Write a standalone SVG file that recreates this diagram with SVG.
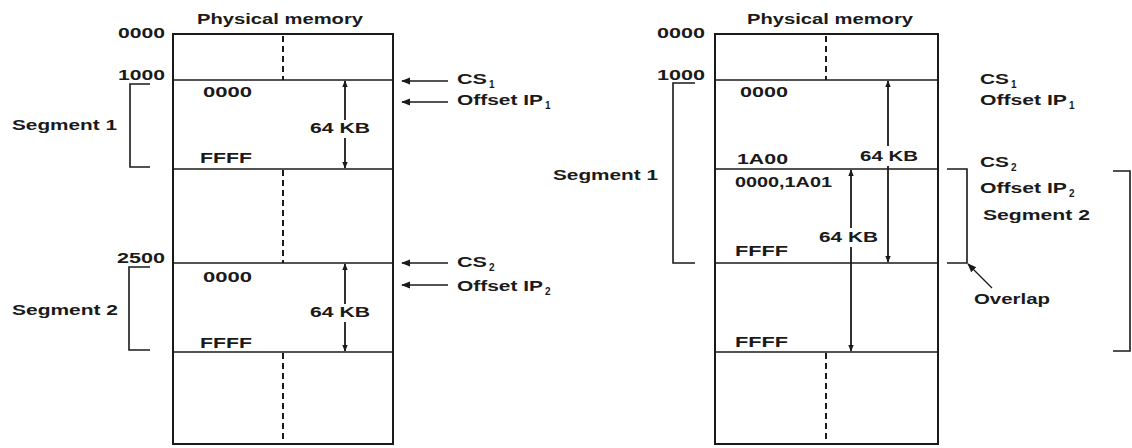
<svg xmlns="http://www.w3.org/2000/svg" width="1132" height="448" viewBox="0 0 1132 448">
<style>
text{font-family:"Liberation Sans",Arial,sans-serif;font-size:14px;font-weight:bold;fill:#1a1a1a}
.sub{font-size:10px}
.box{fill:none;stroke:#1a1a1a;stroke-width:2}
.div{stroke:#1a1a1a;stroke-width:1.5}
.dash{stroke:#1a1a1a;stroke-width:2;stroke-dasharray:6 4}
.br{fill:none;stroke:#1a1a1a;stroke-width:1.6}
.arr{stroke:#1a1a1a;stroke-width:1.8;fill:none}
.ptr{stroke:#1a1a1a;stroke-width:1.3;fill:none}
</style>
<defs>
<marker id="ah" viewBox="0 0 10 10" refX="9" refY="5" markerWidth="7" markerHeight="7" markerUnits="userSpaceOnUse" orient="auto-start-reverse">
<path d="M0,1 L10,5 L0,9 z" fill="#1a1a1a"/>
</marker>
<marker id="ah2" viewBox="0 0 10 10" refX="9" refY="5" markerWidth="9" markerHeight="9" markerUnits="userSpaceOnUse" orient="auto-start-reverse">
<path d="M0,1 L10,5 L0,9 z" fill="#1a1a1a"/>
</marker>
</defs>

<g id="left-memory">
<text x="197" y="24" textLength="166" lengthAdjust="spacingAndGlyphs">Physical memory</text>
<rect class="box" x="173" y="34" width="220" height="410"/>
<line class="div" x1="173" y1="80" x2="393" y2="80"/>
<line class="div" x1="173" y1="169" x2="393" y2="169"/>
<line class="div" x1="173" y1="263" x2="393" y2="263"/>
<line class="div" x1="173" y1="352" x2="393" y2="352"/>
<line class="dash" x1="283" y1="36" x2="283" y2="80"/>
<line class="dash" x1="283" y1="170" x2="283" y2="263"/>
<line class="dash" x1="283" y1="353" x2="283" y2="443"/>
<text x="118" y="38" textLength="47" lengthAdjust="spacingAndGlyphs">0000</text>
<text x="118" y="80" textLength="47" lengthAdjust="spacingAndGlyphs">1000</text>
<text x="117" y="263" textLength="48" lengthAdjust="spacingAndGlyphs">2500</text>
</g>

<g id="left-segment1">
<text x="203" y="97" textLength="49" lengthAdjust="spacingAndGlyphs">0000</text>
<text x="200" y="163" textLength="52" lengthAdjust="spacingAndGlyphs">FFFF</text>
<text x="310" y="133" textLength="60" lengthAdjust="spacingAndGlyphs">64 KB</text>
<polyline class="br" points="150,84 130,84 130,167 150,167"/>
<text x="12" y="130" textLength="105" lengthAdjust="spacingAndGlyphs">Segment 1</text>
</g>

<g id="left-segment2">
<text x="203" y="282" textLength="49" lengthAdjust="spacingAndGlyphs">0000</text>
<text x="200" y="348" textLength="52" lengthAdjust="spacingAndGlyphs">FFFF</text>
<text x="310" y="317" textLength="60" lengthAdjust="spacingAndGlyphs">64 KB</text>
<polyline class="br" points="150,267 129,267 129,350 150,350"/>
<text x="12" y="315" textLength="106" lengthAdjust="spacingAndGlyphs">Segment 2</text>
</g>

<g id="left-labels">
<text x="457" y="84" textLength="30" lengthAdjust="spacingAndGlyphs">CS</text>
<text class="sub" x="489" y="88">1</text>
<text x="457" y="105" textLength="86" lengthAdjust="spacingAndGlyphs">Offset IP</text>
<text class="sub" x="545" y="109">1</text>
<text x="457" y="267" textLength="30" lengthAdjust="spacingAndGlyphs">CS</text>
<text class="sub" x="489" y="271">2</text>
<text x="457" y="291" textLength="86" lengthAdjust="spacingAndGlyphs">Offset IP</text>
<text class="sub" x="545" y="295">2</text>
</g>

<g id="right-memory">
<text x="747" y="24" textLength="166" lengthAdjust="spacingAndGlyphs">Physical memory</text>
<rect class="box" x="715" y="34" width="223" height="410"/>
<line class="div" x1="715" y1="80" x2="938" y2="80"/>
<line class="div" x1="715" y1="169" x2="938" y2="169"/>
<line class="div" x1="715" y1="263" x2="938" y2="263"/>
<line class="div" x1="715" y1="352" x2="938" y2="352"/>
<line class="dash" x1="826" y1="36" x2="826" y2="80"/>
<line class="dash" x1="826" y1="353" x2="826" y2="443"/>
<text x="657" y="38" textLength="48" lengthAdjust="spacingAndGlyphs">0000</text>
<text x="657" y="80" textLength="48" lengthAdjust="spacingAndGlyphs">1000</text>
</g>

<g id="right-segment1">
<text x="740" y="97" textLength="48" lengthAdjust="spacingAndGlyphs">0000</text>
<text x="737" y="164" textLength="51" lengthAdjust="spacingAndGlyphs">1A00</text>
<text x="860" y="161" textLength="58" lengthAdjust="spacingAndGlyphs">64 KB</text>
<polyline class="br" points="695,83 673,83 673,263 695,263"/>
<text x="553" y="180" textLength="105" lengthAdjust="spacingAndGlyphs">Segment 1</text>
<text x="980" y="84" textLength="29" lengthAdjust="spacingAndGlyphs">CS</text>
<text class="sub" x="1011" y="88">1</text>
<text x="980" y="105" textLength="87" lengthAdjust="spacingAndGlyphs">Offset IP</text>
<text class="sub" x="1069" y="109">1</text>
</g>

<g id="right-segment2">
<text x="735" y="187" textLength="97" lengthAdjust="spacingAndGlyphs">0000,1A01</text>
<text x="735" y="256" textLength="53" lengthAdjust="spacingAndGlyphs">FFFF</text>
<text x="735" y="347" textLength="53" lengthAdjust="spacingAndGlyphs">FFFF</text>
<text x="819" y="242" textLength="59" lengthAdjust="spacingAndGlyphs">64 KB</text>
<polyline class="br" points="947,169 967,169 967,263 947,263"/>
<polyline class="br" points="1113,171 1130,171 1130,351 1113,351"/>
<text x="980" y="167" textLength="29" lengthAdjust="spacingAndGlyphs">CS</text>
<text class="sub" x="1011" y="171">2</text>
<text x="980" y="193" textLength="87" lengthAdjust="spacingAndGlyphs">Offset IP</text>
<text class="sub" x="1069" y="197">2</text>
<text x="983" y="220" textLength="107" lengthAdjust="spacingAndGlyphs">Segment 2</text>
</g>

<g id="overlap">
<text x="974" y="304" textLength="76" lengthAdjust="spacingAndGlyphs">Overlap</text>
</g>

<g id="connectors">
<line class="arr" x1="345" y1="120" x2="345" y2="81" marker-end="url(#ah)"/>
<line class="arr" x1="345" y1="138" x2="345" y2="168" marker-end="url(#ah)"/>
<line class="arr" x1="345" y1="304" x2="345" y2="264" marker-end="url(#ah)"/>
<line class="arr" x1="345" y1="322" x2="345" y2="351" marker-end="url(#ah)"/>
<line class="arr" x1="888" y1="146" x2="888" y2="81" marker-end="url(#ah)"/>
<line class="arr" x1="888" y1="166" x2="888" y2="262" marker-end="url(#ah)"/>
<line class="arr" x1="851" y1="228" x2="851" y2="170" marker-end="url(#ah)"/>
<line class="arr" x1="851" y1="247" x2="851" y2="351" marker-end="url(#ah)"/>
<line class="ptr" x1="448" y1="81" x2="402" y2="81" marker-end="url(#ah2)"/>
<line class="ptr" x1="448" y1="102" x2="402" y2="102" marker-end="url(#ah2)"/>
<line class="ptr" x1="448" y1="263" x2="402" y2="263" marker-end="url(#ah2)"/>
<line class="ptr" x1="448" y1="285" x2="402" y2="285" marker-end="url(#ah2)"/>
<line class="ptr" x1="992" y1="288" x2="968" y2="264" marker-end="url(#ah2)"/>
</g>
</svg>
